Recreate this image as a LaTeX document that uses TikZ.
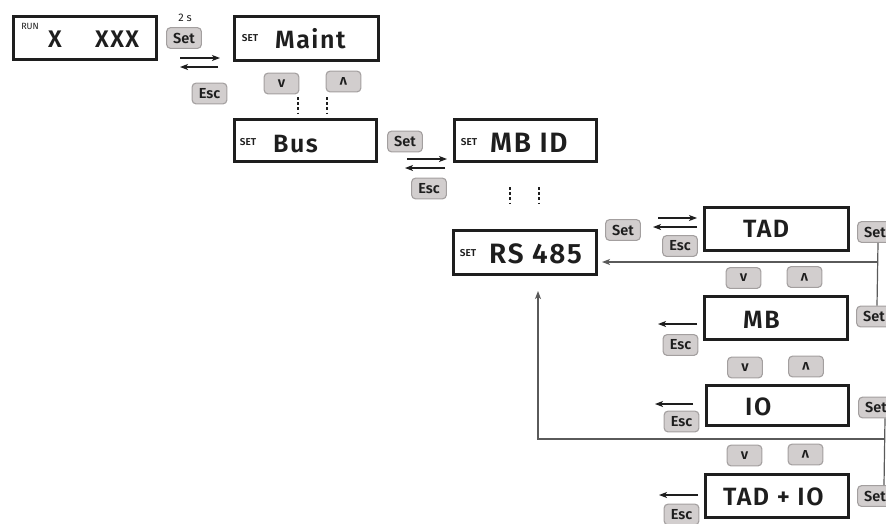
\documentclass[tikz,border=0pt]{standalone}
\usepackage{fontspec}
\setmainfont{Fira Sans}
\IfFontExistsTF{Fira Sans SemiBold}
  {\newfontfamily\dispfont{Fira Sans}[LetterSpace=6,BoldFont={Fira Sans SemiBold}]
   \newfontfamily\btnfont{Fira Sans}[BoldFont={Fira Sans SemiBold}]}
  {\newfontfamily\dispfont{Fira Sans}[LetterSpace=6]
   \newfontfamily\btnfont{Fira Sans}}
\usepackage{graphicx}
\usetikzlibrary{arrows.meta}
\definecolor{btnfill}{HTML}{D2CECE}
\definecolor{btnedge}{HTML}{A39F9F}
\definecolor{ink}{HTML}{1E1E1E}
\definecolor{wire}{HTML}{5A5A5A}
\tikzset{
  disp/.style={draw=ink, line width=3.2pt, inner sep=0pt, rectangle},
  btn/.style={draw=btnedge, fill=btnfill, line width=1.1pt, rounded corners=4pt,
     minimum width=34.8pt, minimum height=20.8pt, inner sep=0pt, text=ink,
     font=\btnfont\fontsize{14.5}{14.5}\selectfont\bfseries},
  distext/.style={anchor=base west, inner sep=0pt, text=ink, font=\dispfont\fontsize{25}{25}\selectfont\bfseries},
  bigtext/.style={anchor=base west, inner sep=0pt, text=ink, font=\dispfont\fontsize{28}{28}\selectfont\bfseries},
  setlbl/.style={inner sep=0pt, text=ink, font=\btnfont\fontsize{10}{10}\selectfont\bfseries},
  arr/.style={draw=ink, line width=1.1pt, -{Stealth[length=8pt,width=6pt,inset=2pt]}},
  wireln/.style={draw=wire, line width=1.2pt},
  wirearr/.style={draw=wire, line width=1.2pt, -{Stealth[length=8pt,width=6pt,inset=2pt]}},
  dots/.style={draw=ink, line width=2.8pt, dash pattern=on 2.8pt off 2.4pt}
}
\newcommand{\upsym}{\rotatebox[origin=c]{180}{v}}
\begin{document}
\begin{tikzpicture}[x=1pt,y=-1pt]
\useasboundingbox (0,0) rectangle (886,523);
% display boxes
\node[disp, minimum width=142.8pt, minimum height=42.8pt] (run) at (85,38) {};
\node[disp, minimum width=143.8pt, minimum height=43.8pt] (maint) at (306.5,38.5) {};
\node[disp, minimum width=141.8pt, minimum height=41.8pt] (bus) at (305.5,140.5) {};
\node[disp, minimum width=141.8pt, minimum height=41.8pt] (mbid) at (525.5,140.5) {};
\node[disp, minimum width=142.8pt, minimum height=43.8pt] (rs) at (525,252.5) {};
\node[disp, minimum width=143.8pt, minimum height=42.8pt] (tad) at (776.5,229) {};
\node[disp, minimum width=142.8pt, minimum height=42.8pt] (mb) at (776,318) {};
\node[disp, minimum width=141.8pt, minimum height=39.8pt] (io) at (777.5,405.5) {};
\node[disp, minimum width=142.8pt, minimum height=42.8pt] (tadio) at (777,496) {};
% texts in displays
\node[setlbl, font=\btnfont\fontsize{9}{9}\selectfont] (runlbl) at (30,26) {RUN};
\node[distext, font=\dispfont\fontsize{24}{24}\selectfont\bfseries] (xone) at (48,47) {X};
\node[distext, font=\dispfont\fontsize{24}{24}\selectfont\bfseries] (xthree) at (95,47) {XXX};
\node[setlbl] (maintset) at (250,38) {SET};
\node[distext] (mainttxt) at (275,48) {Maint};
\node[setlbl] (busset) at (248,142) {SET};
\node[distext] (bustxt) at (273,152) {Bus};
\node[setlbl] (mbidset) at (469,142) {SET};
\node[bigtext] (mbidtxt) at (490,152) {MB ID};
\node[setlbl] (rsset) at (468,253) {SET};
\node[bigtext] (rstxt) at (489,263) {RS 485};
\node[distext] (tadtxt) at (743,237) {TAD};
\node[distext] (mbtxt) at (743,328) {MB};
\node[distext] (iotxt) at (745,415) {IO};
\node[distext] (tadiotxt) at (723,505) {TAD + IO};
% buttons
\node[btn] (set1) at (184,38) {Set};
\node[inner sep=0pt, text=ink, font=\btnfont\fontsize{11}{11}\selectfont] (twos) at (185,18) {2 s};
\node[btn] (esc1) at (209.5,93.5) {Esc};
\node[btn] (down1) at (281.5,83.5) {v};
\node[btn] (up1) at (343.5,81.5) {\upsym};
\node[btn] (set2) at (405,141.5) {Set};
\node[btn] (esc2) at (429,188.5) {Esc};
\node[btn] (set3) at (623,230) {Set};
\node[btn] (esc3) at (680,246) {Esc};
\node[btn] (setT) at (875,232) {Set};
\node[btn] (down2) at (743.5,278) {v};
\node[btn] (up2) at (804.5,277) {\upsym};
\node[btn] (setM) at (874,316.5) {Set};
\node[btn] (escM) at (680.5,345) {Esc};
\node[btn] (down3) at (745,367.5) {v};
\node[btn] (up3) at (806,366.5) {\upsym};
\node[btn] (setI) at (876,407.5) {Set};
\node[btn] (escI) at (681.5,421.5) {Esc};
\node[btn] (down4) at (744.5,455.5) {v};
\node[btn] (up4) at (805.5,454.5) {\upsym};
\node[btn] (setTI) at (875,496) {Set};
\node[btn] (escTI) at (681.5,514.5) {Esc};
% short arrows
\coordinate (a1s) at (180,58); \coordinate (a1e) at (220,58);
\coordinate (b1s) at (218,67); \coordinate (b1e) at (180,67);
\draw[arr] (a1s) -- (a1e);
\draw[arr] (b1s) -- (b1e);
\coordinate (a2s) at (407,159); \coordinate (a2e) at (447,159);
\coordinate (b2s) at (445,168); \coordinate (b2e) at (405,168);
\draw[arr] (a2s) -- (a2e);
\draw[arr] (b2s) -- (b2e);
\coordinate (a3s) at (658,218); \coordinate (a3e) at (697,218);
\coordinate (b3s) at (697,227); \coordinate (b3e) at (653,227);
\draw[arr] (a3s) -- (a3e);
\draw[arr] (b3s) -- (b3e);
\coordinate (c1s) at (697,324); \coordinate (c1e) at (658,324);
\draw[arr] (c1s) -- (c1e);
\coordinate (c2s) at (693,404); \coordinate (c2e) at (655,404);
\draw[arr] (c2s) -- (c2e);
\coordinate (c3s) at (698,495); \coordinate (c3e) at (659,495);
\draw[arr] (c3s) -- (c3e);
% dotted continuations
\coordinate (d1a) at (298,97); \coordinate (d1b) at (298,113);
\coordinate (d2a) at (327,97); \coordinate (d2b) at (327,113);
\draw[dots] (d1a) -- (d1b);
\draw[dots] (d2a) -- (d2b);
\coordinate (d3a) at (510,187); \coordinate (d3b) at (510,203);
\coordinate (d4a) at (539,187); \coordinate (d4b) at (539,203);
\draw[dots] (d3a) -- (d3b);
\draw[dots] (d4a) -- (d4b);
% return lines
\draw[wireln] ([xshift=3pt]setT.south) -- ([xshift=3pt]setM.north);
\coordinate (j1) at (878,262);
\draw[wirearr] (j1) -- ([xshift=4pt]rs.east |- j1);
\draw[wireln] ([xshift=9pt]setI.south) -- ([xshift=9pt]setTI.north);
\coordinate (j2) at (885,439);
\coordinate (j3) at (538,439);
\coordinate (j4) at (538,291);
\draw[wirearr] (j2) -- (j3) -- (j4);
\end{tikzpicture}
\end{document}
